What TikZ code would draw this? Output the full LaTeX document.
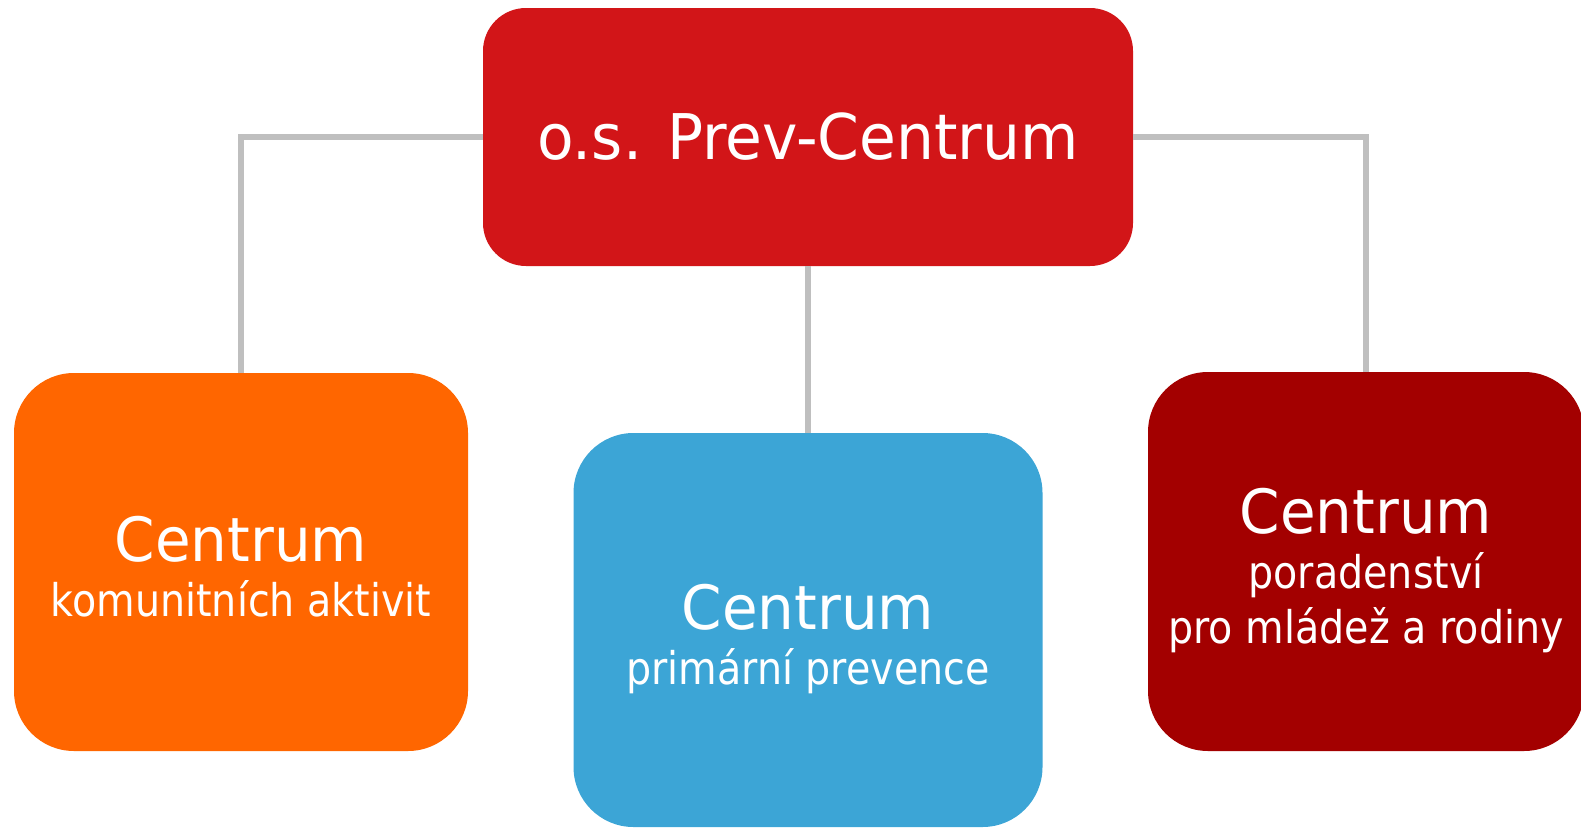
\documentclass[tikz,border=0pt]{standalone}
\usepackage{fontspec}
\usepackage{tikz}
\newfontfamily\bigfont[FakeStretch=0.95]{DejaVu Sans}
\newfontfamily\smallfont[FakeStretch=0.88]{DejaVu Sans}
\newcommand{\capstrut}{\rule{0pt}{64pt}}
\newcommand{\descstrut}{\rule[-10pt]{0pt}{10pt}}
\definecolor{prevred}{RGB}{210,21,24}
\definecolor{komorange}{RGB}{255,102,0}
\definecolor{primblue}{RGB}{60,165,214}
\definecolor{pordarkred}{RGB}{163,0,0}
\definecolor{linegray}{RGB}{191,191,191}

\begin{document}
\begin{tikzpicture}[x=1pt,y=-1pt,
        box/.style={rectangle,rounded corners=60pt,text=white,align=center,
          font=\smallfont\fontsize{45}{55}\selectfont},
        link/.style={draw=linegray,line width=6pt}]

  \useasboundingbox (0,0) rectangle (1581,827);

  \node[box,fill=prevred,rounded corners=43pt,minimum width=650pt,minimum height=258pt,
        font=\bigfont\fontsize{63}{70}\selectfont] (PC) at (808,137) {o.s. Prev-Centrum};
  \node[box,fill=komorange,minimum width=454pt,minimum height=378pt] (K) at (241,562)
        {{\bigfont\fontsize{61}{55}\selectfont\capstrut Centrum}\\komunitních aktivit\descstrut};
  \node[box,fill=primblue,minimum width=469pt,minimum height=394pt] (P) at (808,630)
        {{\bigfont\fontsize{61}{55}\selectfont\capstrut Centrum}\\primární prevence\descstrut};
  \node[box,fill=pordarkred,minimum width=436pt,minimum height=379pt] (R) at (1366,561.5)
        {{\bigfont\fontsize{61}{55}\selectfont\capstrut Centrum}\\poradenství\\pro mládež a rodiny\descstrut};

  \path[link] (PC.west) -| (K.north)
              (PC.east) -| (R.north)
              (PC.south) -- (P.north);

\end{tikzpicture}
\end{document}
